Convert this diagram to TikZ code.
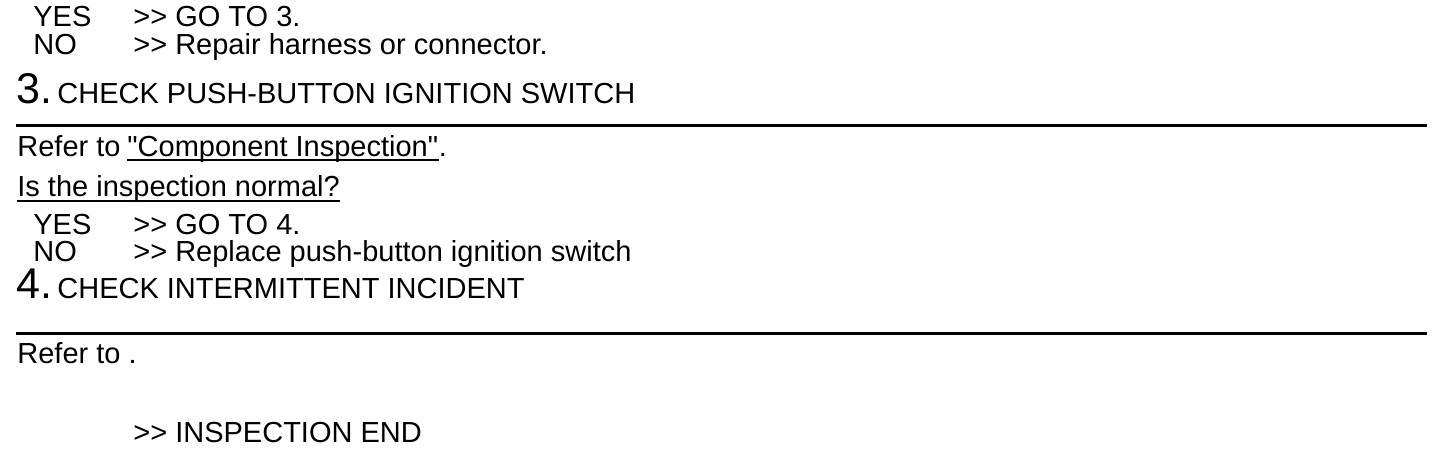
\documentclass[tikz,border=0pt]{standalone}
\usepackage{fontspec}
\setmainfont{Liberation Sans}[Ligatures=TeXOff]

\begin{document}
\begin{tikzpicture}[x=0.5pt,y=-0.5pt,
  txt/.style={anchor=base west,inner sep=0pt,font=\fontsize{14.5}{17}\selectfont},
  num/.style={anchor=base west,inner sep=0pt,font=\fontsize{21.5}{25}\selectfont},
  rule/.style={line width=1.5pt},
  uline/.style={line width=1pt}]
\useasboundingbox (0,0) rectangle (1456,456);

\node[txt] (yes2) at (33,26) {YES};
\node[txt] (go2) at (133,26) {>> GO TO 3.};
\node[txt] (no2) at (33,54) {NO};
\node[txt] (rep2) at (133,54) {>> Repair harness or connector.};

\node[num] (n3) at (16,103) {3.};
\node[txt] (h3) at (57,103) {CHECK PUSH-BUTTON IGNITION SWITCH};
\coordinate (l3a) at (16,125);
\coordinate (l3b) at (1427,125);
\draw[rule] (l3a) -- (l3b);
\node[txt] (ref3) at (17,156) {Refer to};
\node[txt] (comp3) at (127,156) {"Component Inspection"};
\node[txt] (dot3) at (comp3.base east) {.};
\draw[uline] ([yshift=-2.2pt]comp3.base west) -- ([yshift=-2.2pt]comp3.base east);
\node[txt] (q3) at (17,196) {Is the inspection normal?};
\draw[uline] ([yshift=-2.4pt]q3.base west) -- ([yshift=-2.4pt]q3.base east);
\node[txt] (yes3) at (33,234) {YES};
\node[txt] (go3) at (133,234) {>> GO TO 4.};
\node[txt] (no3) at (33,261) {NO};
\node[txt] (rep3) at (133,261) {>> Replace push-button ignition switch};

\node[num] (n4) at (16,298) {4.};
\node[txt] (h4) at (57,298) {CHECK INTERMITTENT INCIDENT};
\coordinate (l4a) at (16,333);
\coordinate (l4b) at (1427,333);
\draw[rule] (l4a) -- (l4b);
\node[txt] (ref4) at (17,363) {Refer to .};
\node[txt] (end4) at (133,442) {>> INSPECTION END};
\end{tikzpicture}
\end{document}
